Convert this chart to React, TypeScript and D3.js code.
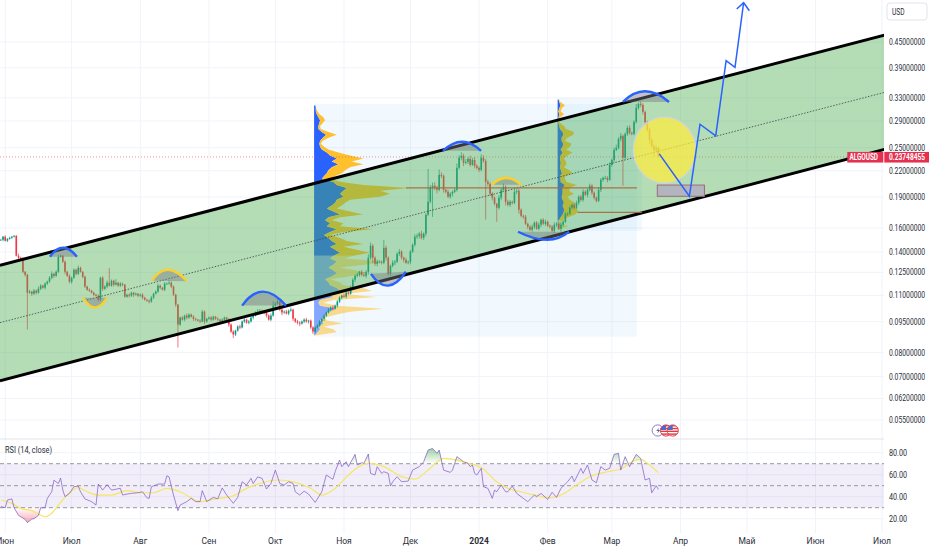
import * as d3 from "d3";

// daily candles, first bar is 30 May 2023
const startDay = Date.UTC(2023, 4, 30);
const closes = [
  0.1498, 0.1524, 0.149, 0.1506, 0.1515, 0.1524, 0.1532, 0.1371, 0.1356, 0.1349, 0.1254, 0.1233, 0.1116, 0.1123, 0.111, 0.1129, 0.1116, 0.1141, 0.1161, 0.1148,
  0.1174, 0.1187, 0.1213, 0.124, 0.1226, 0.1254, 0.1363, 0.1371, 0.1326, 0.1254, 0.1226, 0.1187, 0.1213, 0.1268, 0.124, 0.1282, 0.1254, 0.122, 0.1155, 0.1135,
  0.1129, 0.1116, 0.1104, 0.1098, 0.1074, 0.1213, 0.1141, 0.1155, 0.118, 0.1161, 0.1193, 0.1167, 0.118, 0.1161, 0.1174, 0.1167, 0.1092, 0.1104, 0.1098, 0.1116,
  0.1104, 0.111, 0.1098, 0.1104, 0.1086, 0.1074, 0.1068, 0.1062, 0.1086, 0.111, 0.1123, 0.1161, 0.1148, 0.1135, 0.1174, 0.1174, 0.118, 0.1155, 0.1104, 0.1045,
  0.0935, 0.0972, 0.0961, 0.0983, 0.0972, 0.0988, 0.0977, 0.0966, 0.0961, 0.0956, 0.0951, 0.1005, 0.0951, 0.0966, 0.0972, 0.0961, 0.0977, 0.0966, 0.0961, 0.0951,
  0.0961, 0.0972, 0.0961, 0.0935, 0.0899, 0.0885, 0.0904, 0.0925, 0.092, 0.0951, 0.0961, 0.0945, 0.0951, 0.0972, 0.0983, 0.1, 0.1005, 0.101, 0.1005, 0.1,
  0.0983, 0.0961, 0.0983, 0.1039, 0.1051, 0.1062, 0.1016, 0.1, 0.1005, 0.0994, 0.101, 0.1016, 0.0966, 0.0951, 0.0945, 0.094, 0.0951, 0.0961, 0.0951, 0.0956,
  0.092, 0.0899, 0.092, 0.093, 0.0951, 0.0966, 0.0983, 0.1, 0.1016, 0.1028, 0.1022, 0.1039, 0.1062, 0.1086, 0.1098, 0.1092, 0.1116, 0.111, 0.1148, 0.12,
  0.1226, 0.1233, 0.1254, 0.1233, 0.1226, 0.1254, 0.1356, 0.1449, 0.1356, 0.1311, 0.1326, 0.1326, 0.1319, 0.1433, 0.1356, 0.124, 0.1297, 0.1319, 0.1326, 0.1386,
  0.1402, 0.1356, 0.1341, 0.1319, 0.1326, 0.1402, 0.1457, 0.1524, 0.1532, 0.155, 0.1515, 0.155, 0.1722, 0.1851, 0.2001, 0.2023, 0.2001, 0.1978, 0.215, 0.2138,
  0.1978, 0.1957, 0.1904, 0.1935, 0.1957, 0.1978, 0.2235, 0.2364, 0.239, 0.2298, 0.231, 0.235, 0.2272, 0.2336, 0.226, 0.2235, 0.221, 0.2364, 0.2323, 0.2068,
  0.2045, 0.1935, 0.1893, 0.183, 0.179, 0.1893, 0.1978, 0.2012, 0.1851, 0.182, 0.1851, 0.184, 0.1957, 0.1967, 0.177, 0.1712, 0.1703, 0.1638, 0.1611, 0.1584,
  0.1611, 0.1647, 0.1593, 0.1629, 0.1674, 0.1638, 0.1656, 0.162, 0.1611, 0.1575, 0.1629, 0.1638, 0.1593, 0.1629, 0.1656, 0.1732, 0.1732, 0.179, 0.182, 0.179,
  0.184, 0.1904, 0.1871, 0.1957, 0.1925, 0.1978, 0.2023, 0.1946, 0.1893, 0.1861, 0.1978, 0.2091, 0.2114, 0.2114, 0.2091, 0.2272, 0.2336, 0.247, 0.2498, 0.2625,
  0.267, 0.2364, 0.27, 0.2791, 0.2715, 0.27, 0.2885, 0.3119, 0.3189, 0.3171, 0.305, 0.2885, 0.276, 0.2611, 0.2526, 0.247, 0.2498, 0.2375,
];
// wick length above/below the candle body, in thousandths of the price
const upperWick = [
  6, 5, 8, 4, 6, 5, 4, 3, 12, 6, 8, 5, 6, 10, 5, 9, 6, 12, 8, 5, 7, 6, 9, 14, 6, 8, 10, 6, 4, 7, 5, 9, 6, 8, 5, 12, 7, 4, 6, 5,
  8, 4, 6, 5, 7, 6, 9, 8, 12, 85, 7, 6, 20, 5, 9, 6, 4, 5, 8, 6, 5, 7, 4, 6, 8, 5, 4, 7, 9, 6, 8, 12, 6, 5, 9, 7, 14, 8, 6, 5,
  4, 6, 8, 5, 12, 7, 6, 9, 5, 4, 8, 10, 6, 5, 7, 9, 6, 4, 8, 5, 7, 6, 5, 9, 6, 8, 5, 7, 10, 6, 9, 5, 8, 12, 6, 7, 14, 10, 6, 9,
  8, 7, 12, 25, 9, 14, 5, 8, 6, 10, 7, 12, 6, 5, 9, 8, 6, 7, 10, 5, 6, 8, 5, 7, 9, 6, 8, 5, 10, 7, 12, 6, 9, 8, 5, 10, 14, 7, 12, 9,
  8, 12, 6, 10, 15, 9, 20, 18, 10, 8, 12, 9, 7, 45, 12, 8, 6, 14, 10, 8, 15, 9, 7, 12, 6, 10, 8, 14, 12, 9, 16, 7, 8, 200, 15, 18, 20, 12, 30, 14,
  8, 6, 12, 9, 7, 10, 25, 14, 20, 12, 15, 10, 18, 12, 16, 9, 8, 20, 14, 10, 12, 8, 10, 7, 6, 15, 10, 18, 8, 12, 9, 6, 14, 10, 12, 8, 7, 10, 6, 9,
  12, 8, 10, 14, 7, 9, 12, 6, 8, 10, 14, 9, 7, 12, 10, 9, 8, 11, 6, 10, 12, 7, 10, 14, 8, 6, 12, 9, 7, 8, 14, 10, 7, 12, 9, 15, 8, 12, 18, 10,
  16, 6, 8, 12, 14, 7, 9, 22, 8, 14, 10, 8, 6, 12, 9, 7, 14, 6,
];
const lowerWick = [
  5, 8, 4, 7, 5, 6, 4, 4, 9, 6, 8, 10, 185, 6, 12, 7, 9, 5, 8, 6, 10, 7, 6, 9, 12, 6, 8, 5, 7, 14, 6, 9, 12, 6, 10, 7, 5, 9, 8, 6,
  7, 5, 9, 6, 10, 8, 12, 7, 9, 5, 6, 10, 4, 8, 7, 9, 5, 6, 10, 7, 12, 5, 8, 6, 9, 5, 7, 10, 6, 8, 4, 7, 9, 5, 8, 6, 5, 9, 7, 12,
  120, 8, 6, 9, 10, 7, 5, 12, 8, 6, 9, 5, 14, 7, 6, 10, 5, 8, 9, 7, 5, 8, 6, 12, 7, 20, 9, 6, 10, 5, 8, 7, 9, 6, 10, 5, 12, 7, 6, 9,
  10, 6, 9, 7, 12, 6, 8, 15, 7, 5, 9, 6, 12, 8, 10, 14, 6, 9, 7, 12, 8, 14, 10, 6, 9, 7, 12, 8, 6, 10, 9, 5, 12, 7, 9, 6, 10, 8, 5, 12,
  14, 8, 10, 9, 6, 12, 15, 10, 30, 12, 14, 9, 10, 8, 16, 10, 12, 9, 14, 8, 12, 10, 15, 8, 9, 14, 7, 10, 12, 16, 9, 12, 14, 8, 10, 150, 14, 20, 9, 12,
  16, 10, 8, 12, 15, 7, 10, 9, 14, 18, 8, 12, 10, 6, 14, 9, 12, 8, 10, 190, 14, 12, 16, 9, 75, 10, 14, 8, 20, 9, 12, 10, 8, 14, 22, 9, 12, 8, 14, 7,
  10, 12, 6, 9, 14, 8, 12, 7, 10, 9, 14, 12, 7, 16, 10, 8, 12, 7, 9, 10, 8, 12, 9, 10, 7, 14, 8, 12, 10, 9, 7, 12, 10, 8, 14, 6, 10, 12, 7, 9,
  14, 144, 8, 12, 10, 9, 7, 8, 10, 12, 14, 18, 9, 22, 12, 40, 14, 6,
];

const rsiDays = [
  0, 2, 3, 5, 6, 8, 11, 12, 14, 15, 17, 18, 20, 21, 23, 24, 26, 27, 28, 29, 31, 33, 35, 36, 38, 41, 43, 44, 46, 48, 50, 54, 55, 57, 59, 62, 64, 66, 67, 68,
  71, 74, 75, 76, 78, 80, 81, 84, 86, 88, 90, 91, 93, 96, 98, 100, 102, 105, 107, 109, 111, 113, 114, 116, 118, 120, 122, 124, 126, 128, 130, 132, 133, 135, 137, 139, 142, 145, 147, 150,
  151, 153, 154, 156, 157, 160, 161, 163, 164, 166, 167, 169, 170, 172, 173, 175, 176, 177, 179, 181, 184, 186, 189, 191, 193, 195, 197, 198, 200, 203, 204, 206, 209, 211, 212, 213, 214, 215, 217, 218,
  220, 222, 223, 224, 226, 228, 229, 231, 233, 236, 238, 241, 242, 244, 247, 249, 251, 253, 256, 258, 259, 262, 263, 265, 267, 269, 271, 273, 275, 277, 279, 280, 282, 284, 287, 289, 291, 293, 294, 296, 297,
];
const rsiValues = [
  31, 30, 37, 38, 30, 23, 19.4, 16.4, 19.7, 20, 23, 30, 30, 38.5, 44.5, 55, 52, 57, 46, 40, 43, 49, 49.7, 44.5, 38, 35.5, 32.4, 51.5, 46, 51, 46, 47.6, 41.5, 42.4, 43, 43.6, 44.5, 39, 38.5, 49,
  51.5, 51.5, 59, 58, 41.5, 27.3, 32.4, 35.5, 38.5, 35.5, 35.5, 45.5, 35.5, 39.4, 38, 48, 41.5, 34, 39.4, 53.6, 50.6, 56.7, 52, 58, 56.7, 47, 52, 64.2, 52, 50.6, 53.6, 52, 44.5, 41.5, 45, 42.4, 34.8, 44.5, 59.7, 55.8,
  62.7, 73.3, 67.3, 71.8, 67.3, 78.5, 68.8, 70.9, 70.3, 78.8, 61.2, 59.7, 67.3, 61.2, 62.7, 61.2, 49.7, 53.6, 58.2, 53.6, 54.2, 64.2, 67.3, 71.8, 82.4, 83.9, 79.4, 82.4, 64.2, 62.1, 64.2, 76.4, 71.8, 70.3, 67.3, 68.8, 61.2, 59.7, 65.8, 49,
  47.6, 38.5, 46, 44.5, 50.6, 44.5, 44.5, 49.7, 43, 38.5, 35.5, 41.5, 40, 43, 37.6, 44, 39.4, 47.6, 53.6, 58.8, 53.6, 65.8, 61.2, 68.8, 55.2, 52.7, 67.3, 64.2, 65.8, 78.5, 79.4, 64.2, 76.4, 67.3, 78.5, 74.8, 55.2, 56.7, 43.6, 50, 46.7,
];
const rsiMaDays = [
  0, 5, 9, 14, 18, 20, 23, 26, 30, 35, 39, 44, 50, 57, 63, 69, 75, 81, 90, 98, 104, 111, 117, 125, 133, 140, 145, 151, 157, 161, 166, 173, 181, 187, 193, 200, 206, 211, 215, 218,
  223, 229, 235, 241, 248, 254, 260, 266, 274, 280, 286, 289, 293, 297,
];
const rsiMaValues = [
  37, 33.9, 29.4, 27.3, 23.3, 21.8, 24.9, 32.4, 41.5, 48.2, 44.5, 41.5, 41.5, 45.5, 43.6, 43.6, 47.6, 44.5, 35.5, 38.5, 40, 47.6, 52.1, 55.2, 53, 47.6, 41.5, 47.6, 59.7, 66.4, 70.3, 67.3, 58.2, 56, 64.2, 74.9, 73.3, 70.3, 68.2, 65.2,
  55.2, 47.6, 44.5, 41.5, 39, 42.4, 50.6, 58.2, 62.7, 65.2, 72.7, 73.9, 68.8, 61.8,
];

// volume profile rows, top row first
const bigProfileUp = [
  1.3, 1.7, 1.7, 2.7, 4.3, 6, 5.3, 4.3, 4.3, 7.7, 12, 8.7, 6, 5.3, 6, 7.7, 12.7, 16, 22.7, 17.7, 24.3, 17.7, 14.3, 12.7, 10, 7.7,
  19.3, 22.7, 32.7, 29.3, 26, 29.3, 22.7, 21, 17.7, 12.7, 19.3, 26, 14.3, 11, 16, 12.7, 22.7, 16, 10, 14.3, 17.7, 22.7, 16, 21, 26, 19.3, 16,
  22.7, 19.3, 14.3, 19.3, 22.7, 17.7, 11, 14.3, 16, 22.7, 26, 12.7, 19.3, 6, 4.3, 6, 22.7, 14.3, 11, 9.3, 6, 9.3, 4.3, 6, 3.3, 1,
];
const bigProfileDown = [
  0, 0, 1.7, 2.7, 5, 5, 3.3, 1.7, 2.3, 6.7, 10.7, 5.7, 2.7, 1.3, 4, 6.7, 11.7, 20, 26.7, 20, 25, 18.3, 16.7, 15, 11, 8.3,
  8.3, 26.7, 63.3, 36.7, 50, 36.7, 13.3, 10, 10, 10, 16.7, 23.3, 11.7, 6.7, 13.3, 13.3, 36.7, 13.3, 6, 11.7, 15, 26.7, 13.3, 21.7, 30, 20, 15,
  46.7, 33.3, 11.7, 23.3, 30, 18.3, 5, 11.7, 13.3, 26.7, 31.7, 16.7, 43.3, 13.3, 5, 16.7, 46.7, 21.7, 11.7, 1.7, 6.7, 20, 5, 13.3, 19.3, 1.7,
];
const smallProfileUp = [
  1, 1.7, 3, 1.7, 0.7, 1.7, 1, 0.7, 0.7, 1.7, 2.3, 5, 5.7, 4, 4, 5.7, 5, 3, 5, 3, 2.3, 3, 3, 2.3, 3.3, 4.3, 2.3, 3, 3, 7.3, 5, 5, 5, 4, 5, 6.3, 5, 6.3, 6.3, 5, 3, 1, 1, 1.3, 0.7,
];
const smallProfileDown = [
  0, 1.3, 4.3, 2.3, 2.3, 4.7, 1.3, 0, 1.7, 4.7, 6, 11.3, 10, 5.7, 3.3, 8.3, 7.3, 5.3, 10, 6.7, 4, 5.3, 6, 4, 8.3, 10.7, 5, 4.3, 6, 11.7, 7.3, 6.7, 11.3, 5.7, 7.3, 11, 11.3, 12.7, 14.3, 12.3, 6.7, 3, 3, 9.3, 1.7,
];

const priceTicks = [0.45, 0.39, 0.33, 0.29, 0.25, 0.22, 0.19, 0.16, 0.14, 0.125, 0.11, 0.095, 0.08, 0.07, 0.062, 0.055];
const rsiTicks = [80, 60, 40, 20];
const rsiBands = [70, 50, 30];
const monthLabels = ["Июн", "Июл", "Авг", "Сен", "Окт", "Ноя", "Дек", "2024", "Фев", "Мар", "Апр", "Май", "Июн", "Июл"];
const lastPrice = 0.23748455;

// drawings, as [bar index, price]
type Pt = [number, number];
const channelEnds = [-0.4, 400];
const channelTop = [0.13, 0.469];
const channelMid = [0.0945, 0.341];
const channelBottom = [0.0684, 0.2483];
const forecast: Pt[] = [[297.4, 0.2416], [311, 0.1908], [315.8, 0.2848], [322.9, 0.267], [327.6, 0.4056], [331.6, 0.391], [335.5, 0.5598]];
const arrowHead: Pt[] = [[332.4, 0.5405], [335.5, 0.5598], [338.1, 0.5355]];
const blueArcs: Pt[][] = [
  [[22.2, 0.1363], [28.1, 0.1433], [34.4, 0.1363]],
  [[109, 0.1039], [118.4, 0.1123], [128.8, 0.1039]],
  [[167.2, 0.124], [174.9, 0.1161], [183, 0.1254]],
  [[199.7, 0.2457], [208.3, 0.2585], [216.9, 0.2457]],
  [[233.6, 0.1567], [246.7, 0.1498], [256.7, 0.1567]],
  [[281, 0.3224], [291, 0.342], [301.8, 0.3224]],
];
const yellowArcs: Pt[][] = [
  [[37.1, 0.1086], [42.5, 0.1028], [48, 0.1086]],
  [[68.3, 0.1193], [75.5, 0.1268], [84.1, 0.119]],
  [[221.9, 0.2034], [228.2, 0.2114], [235, 0.2034]],
];

const WIDTH = 932;
const HEIGHT = 550;
const plotRight = 884;
const paneTop = 439;
const axisBottom = 533;
const textColor = "#2a2e39";

const dayToDate = (d: number) => new Date(startDay + d * 864e5);
const xTime = d3.scaleUtc().domain([dayToDate(0), dayToDate(398)]).range([0.8, 882]);
const xDay = (d: number) => xTime(dayToDate(d));
const yPrice = d3.scaleLog().domain([0.45, 0.055]).range([42, 420]);
const yRsi = d3.scaleLinear().domain([20, 80]).range([518.7, 452.7]);
const volWidth = d3.scaleLinear().domain([0, 100]).range([0, 100]);

const linePath = d3.line<Pt>().x((p) => xDay(p[0])).y((p) => yPrice(p[1]));

// a bowl through three anchors, closed along the chord
function arcPath(a: Pt, m: Pt, b: Pt) {
  const [x0, y0] = [xDay(a[0]), yPrice(a[1])];
  const [x1, y1] = [xDay(m[0]), yPrice(m[1])];
  const [x2, y2] = [xDay(b[0]), yPrice(b[1])];
  const cx = 2 * x1 - (x0 + x2) / 2;
  const cy = 2 * y1 - (y0 + y2) / 2;
  return `M${x0},${y0}Q${cx},${cy} ${x2},${y2}`;
}

// the axis type is narrow in the original, so labels are squeezed sideways
function NarrowText({ x, y, sx, size = 8.5, bold, fill = textColor, children }: {
  x: number; y: number; sx: number; size?: number; bold?: boolean; fill?: string; children: string;
}) {
  return (
    <text transform={`translate(${x},${y}) scale(${sx},1)`} fontSize={size} fontWeight={bold ? 700 : 400} fill={fill}>
      {children}
    </text>
  );
}

function Profile({ up, down, left, right, top, bottom, faintFrom }: {
  up: number[]; down: number[]; left: number; right: number; top: number; bottom: number; faintFrom: number;
}) {
  const rows = d3.scaleBand<number>().domain(d3.range(up.length)).range([yPrice(top), yPrice(bottom)]);
  const x0 = xDay(left);
  const rowY = (i: number) => (rows(i) ?? 0) + rows.bandwidth() / 2;
  const upArea = d3.area<number>().y((i) => rowY(i)).x0(x0).x1((i) => x0 + volWidth(up[i]));
  const downArea = d3.area<number>().y((i) => rowY(i))
    .x0((i) => x0 + volWidth(up[i]))
    .x1((i) => x0 + volWidth(up[i]) + volWidth(down[i]));
  const strong = d3.range(0, faintFrom);
  const faint = d3.range(faintFrom - 1, up.length);
  return (
    <g>
      <rect x={x0} y={yPrice(top)} width={xDay(right) - x0} height={yPrice(bottom) - yPrice(top)} fill="#2196f3" fillOpacity={0.06} />
      <path d={upArea(strong) ?? ""} fill="#2962ff" />
      <path d={downArea(strong) ?? ""} fill="#ffc02e" />
      <path d={upArea(faint) ?? ""} fill="#2962ff" fillOpacity={0.55} />
      <path d={downArea(faint) ?? ""} fill="#ffc02e" fillOpacity={0.55} />
    </g>
  );
}

function Candles() {
  return (
    <g>
      {closes.map((c, i) => {
        const o = i === 0 ? c : closes[i - 1];
        const top = Math.max(o, c);
        const bottom = Math.min(o, c);
        const color = c >= o ? "#089981" : "#f23645";
        const x = xDay(i);
        const hi = top * (1 + (upperWick[i] ?? 5) / 1000);
        const lo = bottom * (1 - (lowerWick[i] ?? 5) / 1000);
        return (
          <g key={i}>
            <line x1={x} x2={x} y1={yPrice(hi)} y2={yPrice(lo)} stroke={color} strokeWidth={0.7} />
            <rect x={x - 0.8} width={1.6} y={yPrice(top)} height={Math.max(yPrice(bottom) - yPrice(top), 0.7)} fill={color} />
          </g>
        );
      })}
    </g>
  );
}

export default function App() {
  const months = d3.utcMonth.range(new Date(Date.UTC(2023, 5, 1)), new Date(Date.UTC(2024, 6, 2)));
  const font = "Roboto, 'Liberation Sans', sans-serif";
  const channelPts = (prices: number[]): Pt[] => [[channelEnds[0], prices[0]], [channelEnds[1], prices[1]]];
  const channelArea = linePath(channelPts(channelTop)) + "L" + xDay(channelEnds[1]) + "," + yPrice(channelBottom[1]) + "L" + xDay(channelEnds[0]) + "," + yPrice(channelBottom[0]) + "Z";

  const rsiPts: [number, number][] = rsiDays.map((d, i) => [d, rsiValues[i]]);
  const rsiLine = d3.line<[number, number]>().x((p) => xDay(p[0])).y((p) => yRsi(p[1]));
  const rsiMaLine = d3.line<number>().x((d) => xDay(d)).y((_, i) => yRsi(rsiMaValues[i])).curve(d3.curveMonotoneX);
  const rsiArea = d3.area<[number, number]>().x((p) => xDay(p[0])).y1((p) => yRsi(p[1]));
  const flagX = xDay(296.7);
  const flagY = 430.5;

  return (
    <svg width={WIDTH} height={HEIGHT} style={{ position: "fixed", left: 0, top: 0, background: "#fff" }} fontFamily={font}>
      <defs>
        <clipPath id="plot"><rect x={0} y={0} width={plotRight} height={paneTop - 4} /></clipPath>
        <clipPath id="rsiHigh"><rect x={0} y={paneTop} width={plotRight} height={yRsi(70) - paneTop} /></clipPath>
        <clipPath id="rsiLow"><rect x={0} y={yRsi(30)} width={plotRight} height={axisBottom - yRsi(30)} /></clipPath>
        <clipPath id="flagA"><circle cx={flagX + 8.3} cy={flagY} r={5.6} /></clipPath>
        <clipPath id="flagB"><circle cx={flagX + 15} cy={flagY} r={5.6} /></clipPath>
        <linearGradient id="highFill" gradientUnits="userSpaceOnUse" x1="0" x2="0" y1={yRsi(90)} y2={yRsi(70)}>
          <stop offset="0" stopColor="#4caf50" stopOpacity={0.8} />
          <stop offset="1" stopColor="#4caf50" stopOpacity={0} />
        </linearGradient>
        <linearGradient id="lowFill" gradientUnits="userSpaceOnUse" x1="0" x2="0" y1={yRsi(30)} y2={yRsi(14)}>
          <stop offset="0" stopColor="#f23645" stopOpacity={0} />
          <stop offset="1" stopColor="#f23645" stopOpacity={0.5} />
        </linearGradient>
      </defs>

      {/* grid */}
      <g stroke="#f0f3fa" strokeWidth={1}>
        {months.map((m) => <line key={+m} x1={xTime(m)} x2={xTime(m)} y1={0} y2={axisBottom} />)}
        {priceTicks.map((t) => <line key={t} x1={0} x2={plotRight} y1={yPrice(t)} y2={yPrice(t)} />)}
        {rsiTicks.map((t) => <line key={t} x1={0} x2={plotRight} y1={yRsi(t)} y2={yRsi(t)} />)}
      </g>

      <g clipPath="url(#plot)">
        <Profile up={bigProfileUp} down={bigProfileDown} left={141.5} right={287.3} top={0.3189} bottom={0.0874} faintFrom={52} />
        <Profile up={smallProfileUp} down={smallProfileDown} left={251.5} right={289.6} top={0.3297} bottom={0.1575} faintFrom={42} />
        <line x1={0} x2={xDay(channelEnds[1])} y1={yPrice(lastPrice)} y2={yPrice(lastPrice)} stroke="#f23645" strokeOpacity={0.55} strokeWidth={1} strokeDasharray="1 2" />
        <Candles />
        {/* channel goes over the candles */}
        <path d={channelArea} fill="#4caf50" fillOpacity={0.42} />
        <path d={linePath(channelPts(channelMid)) ?? ""} stroke="#3c4043" strokeWidth={0.8} strokeDasharray="1.5 1.5" fill="none" />
        <path d={linePath(channelPts(channelTop)) ?? ""} stroke="#000" strokeWidth={3} fill="none" />
        <path d={linePath(channelPts(channelBottom)) ?? ""} stroke="#000" strokeWidth={3} fill="none" />

        {/* point of control */}
        <line x1={xDay(183)} x2={xDay(287.3)} y1={yPrice(0.2)} y2={yPrice(0.2)} stroke="#a9663c" strokeOpacity={0.9} strokeWidth={1.3} />
        <line x1={xDay(260.5)} x2={xDay(289.6)} y1={yPrice(0.1745)} y2={yPrice(0.1745)} stroke="#a9663c" strokeOpacity={0.9} strokeWidth={1.3} />

        {blueArcs.map((a, i) => (
          <g key={i}>
            <path d={arcPath(a[0], a[1], a[2]) + "Z"} fill="#787b86" fillOpacity={0.45} />
            <path d={arcPath(a[0], a[1], a[2])} fill="none" stroke="#2962ff" strokeWidth={2.4} />
          </g>
        ))}
        {yellowArcs.map((a, i) => (
          <g key={i}>
            <path d={arcPath(a[0], a[1], a[2]) + "Z"} fill="#787b86" fillOpacity={0.45} />
            <path d={arcPath(a[0], a[1], a[2])} fill="none" stroke="#fbd02d" strokeWidth={2.4} />
          </g>
        ))}

        <ellipse cx={xDay(299.8)} cy={yPrice(0.2467)} rx={(xDay(313.9) - xDay(285.7)) / 2} ry={(yPrice(0.2057) - yPrice(0.2967)) / 2} fill="#ffeb3b" fillOpacity={0.72} stroke="#d1d4dc" strokeWidth={1.3} />
        <rect x={xDay(296.5)} y={yPrice(0.2031)} width={xDay(317.8) - xDay(296.5)} height={yPrice(0.1908) - yPrice(0.2031)} fill="#b2b5be" stroke="#9b6b7a" strokeWidth={1} />
        <path d={linePath(forecast) ?? ""} fill="none" stroke="#2962ff" strokeWidth={1.5} />
        <path d={linePath(arrowHead) ?? ""} fill="none" stroke="#2962ff" strokeWidth={1.5} />
      </g>

      {/* event badges */}
      <circle cx={flagX} cy={flagY} r={5.6} fill="#fff" stroke="#8e7cc3" strokeWidth={1} />
      <path d={`M${flagX + 1.5},${flagY - 3}l-3,3.5h2l-1,2.5l3,-3.5h-2z`} fill="#6b5b95" />
      {["flagA", "flagB"].map((id, k) => {
        const cx = flagX + (k === 0 ? 8.3 : 15);
        return (
          <g key={id}>
            <circle cx={cx} cy={flagY} r={5.6} fill="#fff" />
            <g clipPath={`url(#${id})`}>
              {d3.range(4).map((r) => <rect key={r} x={cx - 6} y={flagY - 5.5 + r * 2.8} width={12} height={1.4} fill="#e53935" />)}
              <rect x={cx - 6} y={flagY - 6} width={6} height={5.5} fill="#3f6fd8" />
            </g>
            <circle cx={cx} cy={flagY} r={5.6} fill="none" stroke="#e53950" strokeWidth={1} />
          </g>
        );
      })}

      {/* RSI pane */}
      <line x1={0} x2={WIDTH} y1={paneTop} y2={paneTop} stroke="#e0e3eb" strokeWidth={1} />
      <rect x={0} y={yRsi(70)} width={plotRight} height={yRsi(30) - yRsi(70)} fill="#7e57c2" fillOpacity={0.1} />
      {rsiBands.map((b) => (
        <line key={b} x1={0} x2={plotRight} y1={yRsi(b)} y2={yRsi(b)} stroke="#787b86" strokeWidth={0.9} strokeOpacity={0.85} strokeDasharray="4 3" />
      ))}
      <path clipPath="url(#rsiHigh)" d={rsiArea.y0(yRsi(70))(rsiPts) ?? ""} fill="url(#highFill)" />
      <path clipPath="url(#rsiLow)" d={rsiArea.y0(yRsi(30))(rsiPts) ?? ""} fill="url(#lowFill)" />
      <path d={rsiMaLine(rsiMaDays) ?? ""} fill="none" stroke="#f5e663" strokeWidth={1.2} />
      <path d={rsiLine(rsiPts) ?? ""} fill="none" stroke="#7e57c2" strokeWidth={1} strokeOpacity={0.7} />
      <NarrowText x={5} y={453} sx={0.82} size={9}>RSI (14, close)</NarrowText>

      {/* right axis */}
      <rect x={plotRight} y={0} width={WIDTH - plotRight} height={HEIGHT} fill="#fff" />
      {priceTicks.map((t) => (
        <NarrowText key={t} x={889} y={yPrice(t) + 3} sx={0.8}>{t.toFixed(8)}</NarrowText>
      ))}
      {rsiTicks.map((t) => (
        <NarrowText key={t} x={889} y={yRsi(t) + 3} sx={0.85}>{t.toFixed(2)}</NarrowText>
      ))}
      <rect x={887} y={3} width={40} height={17} rx={3} fill="#fff" stroke="#e0e3eb" />
      <NarrowText x={892} y={15} sx={0.78}>USD</NarrowText>

      <rect x={847.3} y={yPrice(lastPrice) - 5} width={36} height={10.6} fill="#e5304f" />
      <rect x={884.3} y={yPrice(lastPrice) - 5} width={44.7} height={10.6} fill="#e5304f" />
      <NarrowText x={849.5} y={yPrice(lastPrice) + 3} sx={0.75} bold fill="#fff">ALGOUSD</NarrowText>
      <NarrowText x={889} y={yPrice(lastPrice) + 3} sx={0.78} bold fill="#fff">{lastPrice.toFixed(8)}</NarrowText>

      {/* time axis */}
      {months.map((m, i) => (
        <text key={+m} x={xTime(m)} y={544} fontSize={8.5} textAnchor="middle" fontWeight={monthLabels[i] === "2024" ? 700 : 400} fill={textColor}>{monthLabels[i]}</text>
      ))}
    </svg>
  );
}
